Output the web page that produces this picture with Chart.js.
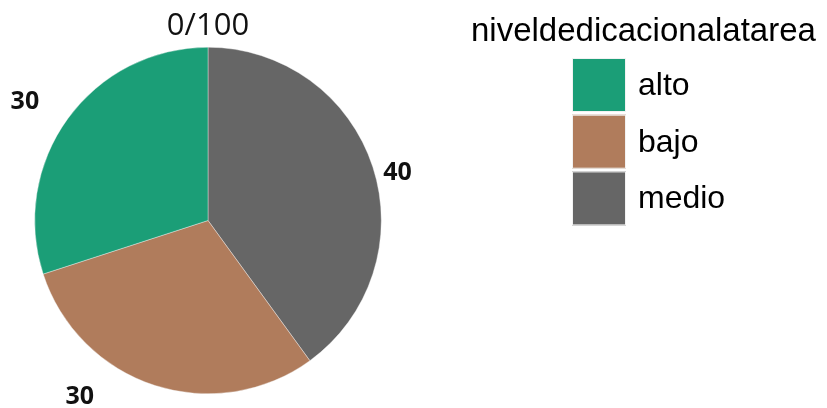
<!DOCTYPE html>
<html lang="es">
<head>
<meta charset="UTF-8">
<title>niveldedicacionalatarea</title>
<script src="https://cdn.jsdelivr.net/npm/chart.js"></script>
<style>
  html, body { margin: 0; padding: 0; background: #fff; }
  #grafico { display: block; }
</style>
</head>
<body>
<canvas id="grafico" width="827" height="408"></canvas>

<script>
    // datos (orden de la leyenda)
    var categorias = ['alto', 'bajo', 'medio'];
    var valores = [30, 30, 40];
    var colores = ['#1B9E77', '#B07C5C', '#666666'];
    var tituloLeyenda = 'niveldedicacionalatarea';
    var etiquetaInicio = '0/100';

    // el pastel va en sentido horario: medio, bajo, alto
    var ordenPastel = [2, 1, 0];

    // pequeños ajustes de las etiquetas de valor (grados, px)
    var ajusteEtiqueta = { alto: [-3, 45], bajo: [18, 45], medio: [4, 22] };

    const pluginEtiquetas = {
        id: 'etiquetas',
        afterDatasetsDraw(chart) {
            const ctx = chart.ctx;
            const meta = chart.getDatasetMeta(0);
            ctx.save();
            ctx.textAlign = 'center';
            ctx.textBaseline = 'middle';

            meta.data.forEach((arc, i) => {
                const nombre = chart.data.labels[i];
                const aj = ajusteEtiqueta[nombre] || [0, 20];
                const ang = (arc.startAngle + arc.endAngle) / 2 + aj[0] * Math.PI / 180;
                const r = arc.outerRadius + aj[1];
                ctx.font = 'bold 25px "Open Sans"';
                ctx.fillStyle = '#111';
                ctx.fillText(String(chart.data.datasets[0].data[i]), arc.x + Math.cos(ang) * r, arc.y + Math.sin(ang) * r);
            });

            // etiqueta del inicio (arriba)
            const primero = meta.data[0];
            ctx.font = '31px "Open Sans"';
            ctx.fillStyle = '#111';
            ctx.fillText(etiquetaInicio, primero.x, primero.y - primero.outerRadius - 21);
            ctx.restore();
        }
    };

    const pluginLeyenda = {
        id: 'leyenda',
        afterDraw(chart) {
            const ctx = chart.ctx;
            ctx.save();
            ctx.fillStyle = '#000';
            ctx.font = '33px "Liberation Sans", Arial';
            ctx.textAlign = 'left';
            ctx.textBaseline = 'middle';
            ctx.fillText(tituloLeyenda, 471, 32);

            ctx.font = '32px "Liberation Sans", Arial';
            categorias.forEach((cat, i) => {
                const y = 58 + i * 56.7;
                ctx.fillStyle = colores[i];
                ctx.fillRect(572, y, 54, 54);
                ctx.strokeStyle = '#f2f2f2';
                ctx.lineWidth = 1;
                ctx.strokeRect(572.5, y + 0.5, 53, 53);
                ctx.fillStyle = '#000';
                ctx.fillText(cat, 638, y + 28);
            });
            ctx.restore();
        }
    };

    new Chart(document.getElementById('grafico').getContext('2d'), {
        type: 'pie',
        data: {
            labels: ordenPastel.map(i => categorias[i]),
            datasets: [{
                data: ordenPastel.map(i => valores[i]),
                backgroundColor: ordenPastel.map(i => colores[i]),
                borderColor: '#f4f4f4',
                borderWidth: 0.4
            }]
        },
        options: {
            responsive: false,
            animation: false,
            layout: { padding: { left: 34, top: 47, right: 445, bottom: 14 } },
            plugins: {
                legend: { display: false },
                tooltip: { enabled: false }
            }
        },
        plugins: [pluginEtiquetas, pluginLeyenda]
    });
</script>
</body>
</html>
